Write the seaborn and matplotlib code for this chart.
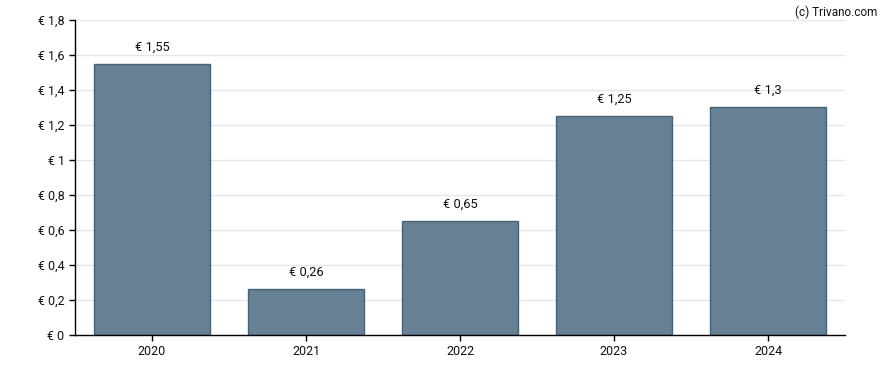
import matplotlib
matplotlib.use('Agg')
import pandas as pd
import matplotlib.pyplot as plt
import seaborn as sns

years = ['2020', '2021', '2022', '2023', '2024']
dividend = [1.55, 0.26, 0.65, 1.25, 1.3]
value_labels = ['€ 1,55', '€ 0,26', '€ 0,65', '€ 1,25', '€ 1,3']
yticks = [0, 0.2, 0.4, 0.6, 0.8, 1.0, 1.2, 1.4, 1.6, 1.8]
ytick_labels = ['€ 0', '€ 0,2', '€ 0,4', '€ 0,6', '€ 0,8', '€ 1', '€ 1,2', '€ 1,4', '€ 1,6', '€ 1,8']

sns.set_style('white')
plt.rcParams['font.family'] = ['Roboto', 'DejaVu Sans']

df = pd.DataFrame({'year': years, 'dividend': dividend})

fig = plt.figure(figsize=(8.88, 3.7), dpi=100)
ax = fig.add_axes([0.0845, 0.0946, 0.8671, 0.8514])

# grid behind the bars
ax.set_axisbelow(True)
ax.yaxis.grid(True, color='#e6e6e6', linewidth=1)

sns.barplot(data=df, x='year', y='dividend', color='#5b778c', alpha=0.93,
            edgecolor='#3e5b70', linewidth=1, width=0.75, saturation=1, ax=ax)

for i, (v, lab) in enumerate(zip(dividend, value_labels)):
    ax.annotate(lab, (i, v), xytext=(0, 7.5), textcoords='offset points',
                ha='center', va='bottom', fontsize=9.3, color='#111111')

ax.set_xlim(-0.5, 4.5)
ax.set_ylim(0, 1.8)
ax.set_yticks(yticks)
ax.set_yticklabels(ytick_labels)
ax.set_xlabel('')
ax.set_ylabel('')
ax.tick_params(axis='both', labelsize=9, length=4, width=1, color='black',
               labelcolor='#111111', direction='out', left=True, bottom=True)
for s in ['top', 'right']:
    ax.spines[s].set_visible(False)
for s in ['left', 'bottom']:
    ax.spines[s].set_color('black')
    ax.spines[s].set_linewidth(1)

fig.text(0.988, 0.985, '(c) Trivano.com', ha='right', va='top', fontsize=8.5, color='#111111')

fig.savefig('out.png', dpi=100)
